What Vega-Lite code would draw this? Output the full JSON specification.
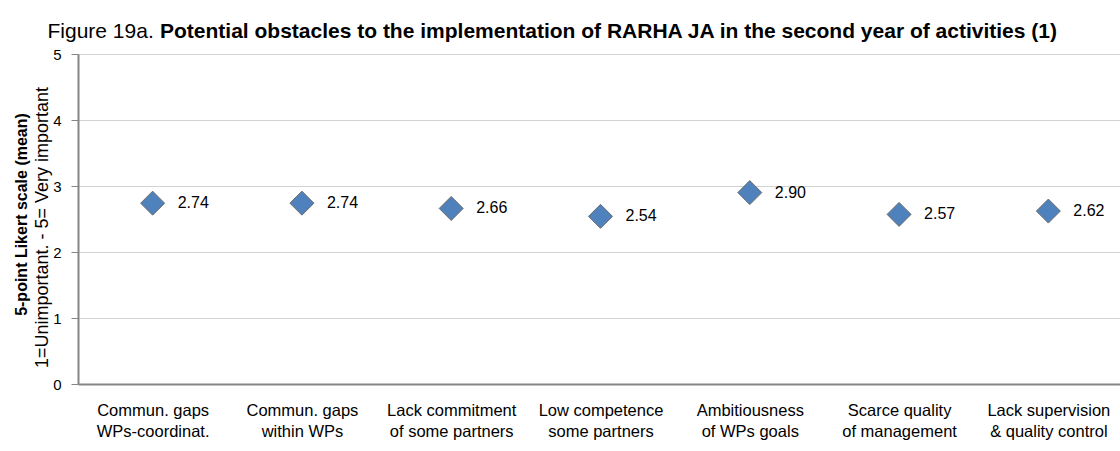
{
  "$schema": "https://vega.github.io/schema/vega-lite/v6.json",
  "autosize": {"type": "none"},
  "padding": {"left": 78, "top": 54, "right": 0, "bottom": 67},
  "width": 1045,
  "height": 330,
  "background": "white",
  "title": {
    "text": "Potential obstacles to the implementation of RARHA JA in the second year of activities (1)",
    "anchor": "start",
    "frame": "group",
    "dx": 82,
    "dy": 36,
    "offset": 14,
    "font": "Liberation Sans",
    "fontSize": 21,
    "fontWeight": "bold",
    "color": "#000000"
  },
  "data": {
    "values": [
      {"category": "Commun. gaps|WPs-coordinat.", "mean": 2.74},
      {"category": "Commun. gaps|within WPs", "mean": 2.74},
      {"category": "Lack commitment|of some partners", "mean": 2.66},
      {"category": "Low competence|some partners", "mean": 2.54},
      {"category": "Ambitiousness|of WPs goals", "mean": 2.90},
      {"category": "Scarce quality|of management", "mean": 2.57},
      {"category": "Lack supervision|& quality control", "mean": 2.62}
    ]
  },
  "encoding": {
    "x": {
      "field": "category",
      "type": "nominal",
      "sort": null,
      "scale": {"paddingInner": 0, "paddingOuter": 0}
    },
    "y": {
      "field": "mean",
      "type": "quantitative",
      "scale": {"domain": [0, 5], "nice": false}
    }
  },
  "layer": [
    {
      "mark": {"type": "point", "shape": "diamond", "filled": true, "size": 576, "fill": "#4F81BD", "stroke": "#6b6b6b", "strokeWidth": 1, "opacity": 1},
      "encoding": {
        "x": {
          "field": "category",
          "type": "nominal",
          "sort": null,
          "axis": {
            "title": null,
            "labelAngle": 0,
            "labelExpr": "split(datum.label, '|')",
            "labelFont": "Liberation Sans",
            "labelFontSize": 16.5,
            "labelColor": "#000000",
            "labelLineHeight": 21,
            "labelBaseline": "top",
            "labelPadding": 18,
            "ticks": false,
            "domainColor": "#868686",
            "domainWidth": 2,
            "grid": false
          }
        },
        "y": {
          "field": "mean",
          "type": "quantitative",
          "axis": {
            "values": [0, 1, 2, 3, 4, 5],
            "title": "1=Unimportant. - 5= Very important",
            "titleFont": "Liberation Sans",
            "titleFontSize": 18,
            "titleFontWeight": "normal",
            "titleColor": "#000000",
            "titleX": -36,
            "titleY": 173,
            "titleAlign": "center",
            "titleBaseline": "middle",
            "labelFont": "Liberation Sans",
            "labelFontSize": 15,
            "labelColor": "#000000",
            "labelPadding": 10,
            "tickSize": 7,
            "tickColor": "#868686",
            "domainColor": "#868686",
            "domainWidth": 2,
            "grid": true,
            "gridColor": "#a6a6a6",
            "gridDash": [1, 1],
            "gridWidth": 1
          }
        }
      }
    },
    {
      "mark": {"type": "text", "align": "left", "baseline": "middle", "dx": 25, "font": "Liberation Sans", "fontSize": 16, "color": "#000000"},
      "encoding": {
        "text": {"field": "mean", "type": "quantitative", "format": ".2f"},
        "x": {
          "field": "category",
          "type": "nominal",
          "sort": null,
          "axis": {
            "orient": "top",
            "labels": false,
            "ticks": false,
            "domain": false,
            "grid": false,
            "title": "Figure 19a.",
            "titleFont": "Liberation Sans",
            "titleFontSize": 21,
            "titleFontWeight": "normal",
            "titleColor": "#000000",
            "titleAnchor": "start",
            "titleAlign": "left",
            "titleX": -31,
            "titleY": -17,
            "titleBaseline": "alphabetic"
          }
        },
        "y": {
          "field": "mean",
          "type": "quantitative",
          "axis": {
            "orient": "left",
            "labels": false,
            "ticks": false,
            "domain": false,
            "grid": false,
            "title": "5-point Likert scale (mean)",
            "titleFont": "Liberation Sans",
            "titleFontSize": 16,
            "titleFontWeight": "bold",
            "titleColor": "#000000",
            "titleX": -57,
            "titleY": 160,
            "titleAlign": "center",
            "titleBaseline": "middle"
          }
        }
      }
    }
  ],
  "resolve": {"axis": {"x": "independent", "y": "independent"}},
  "config": {"view": {"stroke": null}}
}
